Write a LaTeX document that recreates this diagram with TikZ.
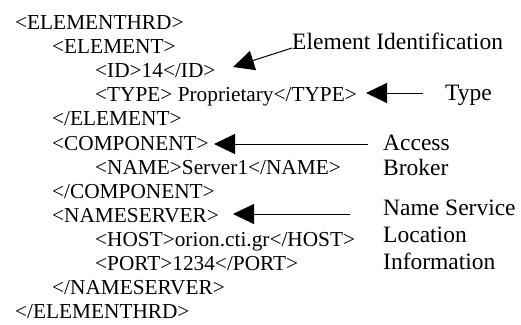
\documentclass[tikz,border=0pt]{standalone}
\usepackage{fontspec}
\setmainfont{Liberation Serif}
\usetikzlibrary{arrows.meta}
\begin{document}
\begin{tikzpicture}[x=1pt, y=-1pt, line join=round, >={Triangle[length=21pt,width=20pt]},
    tag/.style={anchor=base west, inner sep=0pt, font=\fontsize{21.3}{24}\selectfont},
    note/.style={anchor=base west, inner sep=0pt, font=\fontsize{23.5}{27}\selectfont},
    ptr/.style={->, line width=1pt}]
    \useasboundingbox (0,0) rectangle (521,324);
    % ============= XML listing
    \foreach \x/\t [count=\i from 0] in {15/{<ELEMENTHRD>}, 52/{<ELEMENT>}, 95/{<ID>14</ID>},
        95/{<TYPE> Proprietary</TYPE>}, 52/{</ELEMENT>}, 52/{<COMPONENT>}, 95/{<NAME>Server1</NAME>},
        52/{</COMPONENT>}, 52/{<NAMESERVER>}, 95/{<HOST>orion.cti.gr</HOST>}, 95/{<PORT>1234</PORT>},
        52/{</NAMESERVER>}, 15/{</ELEMENTHRD>}}{
        \node[tag] (l\i) at (\x, 29.5+24.1*\i) {\t};
    }
    % ============= Labels
    \node[note] (eid) at (292,49) {Element Identification};
    \node[note] (typ) at (445,100) {Type};
    \node[note] (acc) at (383,150) {Access};
    \node[note] (brk) at (383,175) {Broker};
    \node[note] (nsv) at (383,215) {Name Service};
    \node[note] (loc) at (383,242) {Location};
    \node[note] (inf) at (383,269) {Information};
    %---
    \path (292,48) coordinate (E1) (233,67) coordinate (E2)
          (423,93) coordinate (T1) (366,93) coordinate (T2)
          (368,144) coordinate (A1) (214,144) coordinate (A2)
          (350,214) coordinate (N1) (233,214) coordinate (N2);
    \foreach \a/\b in {E1/E2,T1/T2,A1/A2,N1/N2}{\draw[ptr] (\a) -- (\b);}
\end{tikzpicture}
\end{document}
